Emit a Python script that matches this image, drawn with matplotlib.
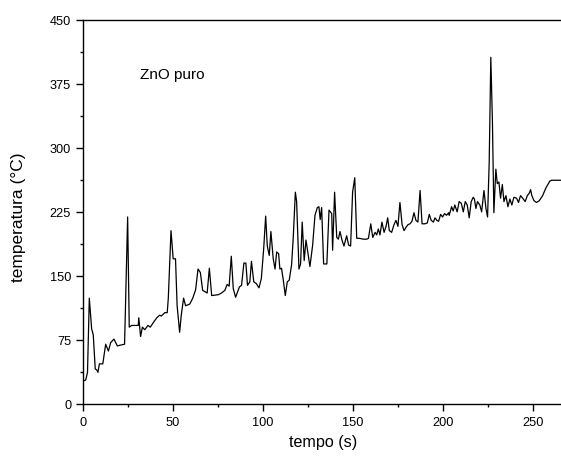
import matplotlib
matplotlib.use("Agg")
import matplotlib.pyplot as plt
from matplotlib.ticker import MultipleLocator

plt.rcParams['font.family'] = ['Liberation Sans', 'DejaVu Sans']

tempo = [0, 1.5, 2.5, 3.5, 4.8, 5.7, 6.8, 7.6, 8.3, 9.1, 11, 12.6, 14.1, 15.4, 17.2, 19.1, 20.9, 23.1,
         24.8, 25.7, 27, 30.7, 31, 32, 33, 34.3, 36.1, 37.4, 39.3, 41, 42.6, 43.5, 45.5, 46.8, 47.4,
         48.9, 50.1, 51.4, 52.3, 53.7, 54.6, 55.9, 57, 59.3, 61, 62.6, 63.9, 65.2, 66.5, 69, 70.2,
         71.5, 75.2, 77, 78.8, 80.1, 81.2, 82.4, 83.5, 84.8, 86.9, 88.1, 89.4, 90.5, 91.4, 92.7,
         93.6, 94.9, 96.3, 97.8, 99.1, 100.4, 101.5, 102.4, 103.5, 104.4, 105.7, 106.7, 107.6,
         108.7, 109.4, 110.3, 111.3, 112.4, 113.5, 114.6, 115.9, 116.8, 118, 118.7, 120, 120.9,
         121.8, 122.9, 123.9, 124.6, 126.1, 127.6, 128.9, 130.2, 131.1, 131.8, 132.6, 133.7,
         135.5, 136.7, 138.2, 138.7, 139.8, 141, 141.9, 142.8, 143.9, 145, 146.5, 147.6, 148.7,
         149.8, 151, 152.1, 153.6, 155.8, 157.6, 158.6, 159.9, 161, 162.3, 163.2, 164.1, 165,
         166.1, 167.3, 168.4, 169.3, 170.2, 171.5, 172.8, 173.9, 175, 176.1, 177.3, 178.4, 179.5,
         180.6, 181.7, 182.8, 183.9, 185, 186.1, 187.3, 188.4, 190, 191.3, 192.4, 193.5, 194.7,
         195.6, 196.6, 197.6, 198.7, 199.8, 200.9, 202, 203.2, 203.5, 204.8, 205.7, 206.6, 207.9,
         209, 210.2, 211.3, 212.4, 213.5, 214.6, 215.7, 216.8, 217.5, 218.3, 219.2, 220.5, 221.5,
         222.8, 223.9, 224.8, 225.7, 226.6, 227.5, 228.3, 229.4, 230.2, 231.1, 232, 233, 233.9,
         235, 236.1, 237.2, 238.3, 239.4, 240.9, 242, 243.1, 244.3, 245.7, 246.9, 248, 248.7,
         249.4, 250.6, 252, 253.5, 255.4, 257.2, 259.4, 260.4, 265.4]

temperatura = [27, 28, 37, 124, 88, 81, 41, 40, 37, 47, 47, 70, 62, 72, 76, 68, 69, 70,
               219, 90, 92, 92, 101, 79, 90, 87, 92, 90, 96, 101, 104, 103, 107, 107, 124,
               203, 170, 170, 115, 84, 104, 124, 115, 117, 124, 134, 158, 154, 133, 130, 159,
               127, 128, 130, 133, 140, 138, 173, 135, 125, 137, 139, 165, 165, 139, 143,
               167, 143, 141, 136, 147, 182, 220, 185, 174, 202, 170, 158, 178,
               176, 158, 159, 145, 127, 143, 145, 163, 194, 248, 237, 158, 164,
               213, 168, 192, 182, 161, 186, 221, 230, 231, 216, 230, 164,
               164, 227, 223, 180, 248, 195, 193, 202, 192, 185, 197, 186, 185,
               248, 265, 194, 194, 193, 193, 194, 211, 195, 201, 198, 205, 198,
               213, 201, 208, 218, 203, 201, 210, 215, 208, 236, 210, 203, 207,
               210, 211, 214, 224, 215, 213, 250, 211, 211, 212, 222, 215, 213,
               218, 215, 214, 222, 219, 223, 221, 224, 221, 231, 226, 233, 225,
               237, 235, 225, 237, 233, 218, 237, 242, 240, 229, 237, 233, 225,
               250, 229, 219, 283, 406, 330, 224, 275, 258, 260, 241, 257, 237,
               244, 231, 240, 233, 242, 241, 236, 244, 241, 237, 244, 247, 251,
               244, 238, 236, 238, 244, 253, 261, 262, 262]

fig = plt.figure(figsize=(5.61, 4.60), dpi=100)
ax = fig.add_axes([83/561, 55/460, 478/561, 384.3/460])
ax.plot(tempo, temperatura, color='black', lw=0.9)

ax.set_xlim(0, 265.6)
ax.set_ylim(0, 450)
ax.xaxis.set_major_locator(MultipleLocator(50))
ax.xaxis.set_minor_locator(MultipleLocator(25))
ax.yaxis.set_major_locator(MultipleLocator(75))
ax.yaxis.set_minor_locator(MultipleLocator(37.5))
ax.tick_params(which='major', direction='out', length=5, width=1)
ax.tick_params(which='minor', direction='out', length=2.5, width=1)
ax.tick_params(axis='x', which='major', labelsize=9.2, pad=4)
ax.tick_params(axis='y', which='major', labelsize=9.2, pad=3.5)
ax.spines['right'].set_visible(False)
for s in ['left', 'bottom', 'top']:
    ax.spines[s].set_linewidth(1)

fig.text(323/561, 1 - 443/460, 'tempo (s)', fontsize=11.6, ha='center', va='center')
fig.text(18/561, 1 - 217/460, 'temperatura (°C)', fontsize=12.5, ha='center', va='center',
         rotation=90)
ax.text(31.5, 387, 'ZnO puro', fontsize=11, ha='left', va='center')

fig.savefig('out.png', dpi=100)
